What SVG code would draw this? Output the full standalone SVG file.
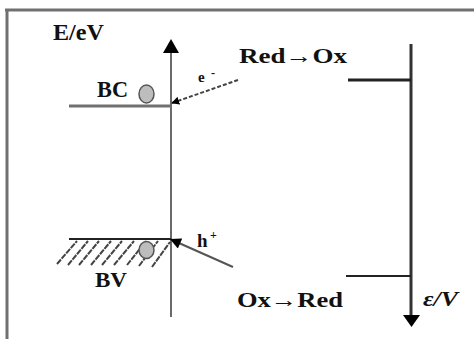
<svg xmlns="http://www.w3.org/2000/svg" width="474" height="339" viewBox="0 0 474 339">
<style>
.t{font-family:"Liberation Serif","Times New Roman",serif;font-weight:bold;fill:#111}
</style>
<defs>
<marker id="ah" viewBox="0 0 10 10" refX="9" refY="5" markerWidth="8" markerHeight="8" orient="auto" markerUnits="userSpaceOnUse">
<path d="M0,0 L10,5 L0,10 z" fill="#000"/>
</marker>
<marker id="ah2" viewBox="0 0 10 10" refX="9" refY="5" markerWidth="12" markerHeight="11" orient="auto" markerUnits="userSpaceOnUse">
<path d="M0,0 L10,5 L0,10 z" fill="#000"/>
</marker>
</defs>
<rect width="474" height="339" fill="#fff"/>
<g id="frame">
<line x1="5" y1="10" x2="474" y2="10" stroke="#707070" stroke-width="3"/>
<line x1="7" y1="9" x2="7" y2="339" stroke="#707070" stroke-width="3"/>
</g>
<g id="energy-axis">
<line x1="171" y1="52" x2="171" y2="317" stroke="#6a6a6a" stroke-width="2"/>
<polygon points="163,53 179,53 171,39" fill="#000"/>
<text class="t" x="53" y="40" font-size="23" textLength="51" lengthAdjust="spacingAndGlyphs">E/eV</text>
</g>
<g id="bc">
<line x1="69" y1="106" x2="171" y2="106" stroke="#707070" stroke-width="3"/>
<text class="t" x="97" y="97" font-size="23" textLength="31" lengthAdjust="spacingAndGlyphs">BC</text>
<ellipse cx="146.5" cy="94" rx="7.5" ry="9" fill="#bdbdbd" stroke="#555" stroke-width="1.5"/>
</g>
<g id="bv">
<line x1="69" y1="239" x2="171" y2="239" stroke="#222" stroke-width="2"/>
<g stroke="#444" stroke-width="2" stroke-dasharray="6 1">
<line x1="57" y1="264" x2="77" y2="241"/>
<line x1="68" y1="265" x2="88" y2="241"/>
<line x1="79" y1="265" x2="99" y2="241"/>
<line x1="91" y1="265" x2="111" y2="241"/>
<line x1="102" y1="265" x2="122" y2="241"/>
<line x1="114" y1="265" x2="134" y2="241"/>
<line x1="127" y1="265" x2="146" y2="241"/>
<line x1="139" y1="266" x2="158" y2="241"/>
<line x1="152" y1="267" x2="170" y2="242"/>
</g>
<ellipse cx="146.5" cy="250" rx="7.5" ry="8.5" fill="#bdbdbd" stroke="#555" stroke-width="1.5"/>
<text class="t" x="95" y="287" font-size="22" textLength="32" lengthAdjust="spacingAndGlyphs">BV</text>
</g>
<g id="connectors">
<line x1="238" y1="80" x2="172" y2="103" stroke="#444" stroke-width="2" stroke-dasharray="4 2" marker-end="url(#ah)"/>
<line x1="233" y1="267" x2="171" y2="239.5" stroke="#555" stroke-width="2" marker-end="url(#ah2)"/>
</g>
<g id="electron-label">
<text class="t" x="198" y="82" font-size="15">e</text>
<text class="t" x="211" y="77" font-size="12">-</text>
</g>
<g id="hole-label">
<text class="t" x="197" y="247" font-size="19">h</text>
<text class="t" x="210" y="239" font-size="12">+</text>
</g>
<g id="potential-axis">
<line x1="411" y1="44" x2="411" y2="317" stroke="#333" stroke-width="3"/>
<polygon points="403,315 420,315 411.5,327" fill="#000"/>
<line x1="348" y1="80" x2="411" y2="80" stroke="#222" stroke-width="3"/>
<line x1="346" y1="276" x2="411" y2="276" stroke="#222" stroke-width="2"/>
<text class="t" x="423" y="306" font-size="20" font-style="italic" textLength="35" lengthAdjust="spacingAndGlyphs">ε/V</text>
</g>
<g id="red-ox">
<text class="t" x="239" y="63" font-size="21" textLength="108" lengthAdjust="spacingAndGlyphs">Red→Ox</text>
</g>
<g id="ox-red">
<text class="t" x="237" y="307" font-size="21" textLength="106" lengthAdjust="spacingAndGlyphs">Ox→Red</text>
</g>
</svg>
